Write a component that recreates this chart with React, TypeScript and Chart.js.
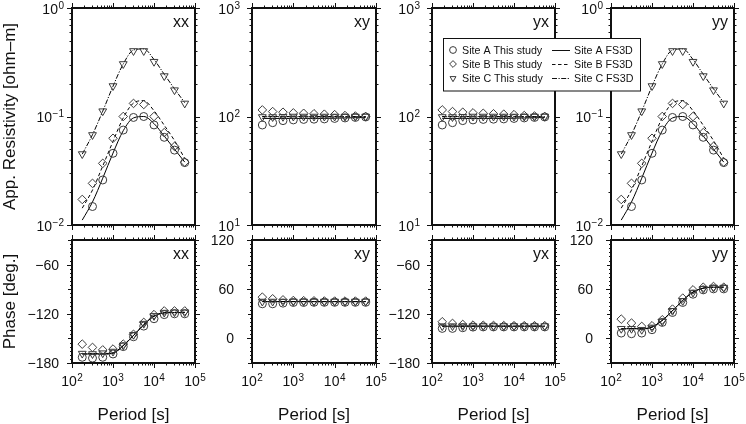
import React, { useEffect, useRef } from 'react';
import { Chart, registerables } from 'chart.js';
Chart.register(...registerables);

const FONT = '"Liberation Sans", Arial, Helvetica, sans-serif';
const INK = '#111';
const MARK = '#3a3a3a';
const W = 746;
const H = 424;

// ---------- data ----------
const periods = [177.8, 316.2, 562.3, 1000, 1778, 3162, 5623, 10000, 17783, 31623, 56234];

const periodTicks = [100, 1000, 10000, 100000];
const rhoTicksDiag = [0.01, 0.1, 1];
const rhoTicksOff = [10, 100, 1000];
const phaseTicksNeg = [-180, -120, -60];
const phaseTicksPos = [0, 60, 120];

// apparent resistivity, xx (observed, This study)
const rhoXX_A = [null, 0.0148, 0.026, 0.0458, 0.075, 0.098, 0.1, 0.0836, 0.0643, 0.049, 0.0376];
const rhoXX_B = [0.0172, 0.0242, 0.037, 0.063, 0.1, 0.132, 0.129, 0.1, 0.071, 0.053, 0.038];
const rhoXX_C = [0.0451, 0.0676, 0.112, 0.191, 0.305, 0.402, 0.402, 0.32, 0.236, 0.175, 0.132];
// apparent resistivity, xx (FS3D)
const fsRhoXX_A = [0.0111, 0.0163, 0.027, 0.046, 0.074, 0.097, 0.1, 0.086, 0.066, 0.05, 0.038];
const fsRhoXX_B = [0.0143, 0.021, 0.035, 0.059, 0.097, 0.133, 0.14, 0.113, 0.083, 0.06, 0.041];
const fsRhoXX_C = [0.045, 0.068, 0.112, 0.19, 0.305, 0.41, 0.42, 0.335, 0.245, 0.18, 0.134];

// yy (same readings as xx)
const rhoYY_A = [null, 0.0148, 0.026, 0.0458, 0.075, 0.098, 0.1, 0.0836, 0.0643, 0.049, 0.0376];
const rhoYY_B = [0.0172, 0.0242, 0.037, 0.063, 0.1, 0.132, 0.129, 0.1, 0.071, 0.053, 0.038];
const rhoYY_C = [0.0451, 0.0676, 0.112, 0.191, 0.305, 0.402, 0.402, 0.32, 0.236, 0.175, 0.132];
const fsRhoYY_A = [0.0111, 0.0163, 0.027, 0.046, 0.074, 0.097, 0.1, 0.086, 0.066, 0.05, 0.038];
const fsRhoYY_B = [0.0143, 0.021, 0.035, 0.059, 0.097, 0.133, 0.14, 0.113, 0.083, 0.06, 0.041];
const fsRhoYY_C = [0.045, 0.068, 0.112, 0.19, 0.305, 0.41, 0.42, 0.335, 0.245, 0.18, 0.134];

// xy / yx resistivity
const rhoXY_A = [83.5, 87.7, 91.6, 93, 94, 94.5, 95, 96, 97, 98, 99];
const rhoXY_B = [115, 111, 109.5, 108, 107, 106, 105, 104, 102, 101, 100];
const rhoXY_C = [99, 99, 99.5, 100, 100, 100, 100, 100, 100, 100, 100];
const fsRhoXY_A = [96, 96, 96, 96, 96, 96, 96, 96.5, 97, 97.5, 98];
const fsRhoXY_B = [100, 100, 100, 100, 100, 100, 100, 100, 100, 100, 100];
const fsRhoXY_C = [99.5, 99.5, 99.5, 99.5, 99.5, 99.5, 99.5, 99.5, 99.5, 99.5, 99.5];

const rhoYX_A = [83.5, 87.7, 91.6, 93, 94, 94.5, 95, 96, 97, 98, 99];
const rhoYX_B = [115, 111, 109.5, 108, 107, 106, 105, 104, 102, 101, 100];
const rhoYX_C = [99, 99, 99.5, 100, 100, 100, 100, 100, 100, 100, 100];
const fsRhoYX_A = [96, 96, 96, 96, 96, 96, 96, 96.5, 97, 97.5, 98];
const fsRhoYX_B = [100, 100, 100, 100, 100, 100, 100, 100, 100, 100, 100];
const fsRhoYX_C = [99.5, 99.5, 99.5, 99.5, 99.5, 99.5, 99.5, 99.5, 99.5, 99.5, 99.5];

// phases
const phXX_A = [-173, -174, -173, -169, -160, -148, -135, -126, -121, -120, -120];
const phXX_B = [-157, -161, -164, -163, -157, -145, -130.5, -121, -116.5, -116.5, -116.5];
const phXX_C = [-168.5, -169, -168, -166, -158.5, -145.5, -132, -122.5, -118.5, -118, -118];
const fsPhXX_A = [-169, -169, -169, -168, -159, -146.5, -133.5, -123, -119, -118.5, -118.5];
const fsPhXX_B = [-168.5, -168.5, -168.5, -167.5, -158.5, -146, -133, -122.5, -118.5, -118, -118];
const fsPhXX_C = [-169, -169, -169, -168, -159, -146.5, -133.5, -123, -119, -118.5, -118.5];

const phXY_A = [42.2, 42.2, 43, 43.8, 43.8, 44, 44, 44, 44, 44, 44];
const phXY_B = [50.3, 48.3, 47, 46.2, 46, 45.8, 45.6, 45.5, 45.5, 45.5, 45.5];
const phXY_C = [45, 45, 45, 45, 45, 45, 45, 45, 45, 45, 45];
const fsPhXY_A = [44.8, 44.8, 44.8, 44.8, 44.8, 44.8, 44.8, 44.8, 44.8, 44.8, 44.8];
const fsPhXY_B = [45, 45, 45, 45, 45, 45, 45, 45, 45, 45, 45];
const fsPhXY_C = [45, 45, 45, 45, 45, 45, 45, 45, 45, 45, 45];

const phYX_A = [-137.8, -137.8, -137, -136.2, -136, -136, -136, -136, -136, -136, -136];
const phYX_B = [-129.7, -131.7, -133, -133.8, -134, -134.2, -134.4, -134.5, -134.5, -134.5, -134.5];
const phYX_C = [-135, -135, -135, -135, -135, -135, -135, -135, -135, -135, -135];
const fsPhYX_A = [-135.2, -135.2, -135.2, -135.2, -135.2, -135.2, -135.2, -135.2, -135.2, -135.2, -135.2];
const fsPhYX_B = [-135, -135, -135, -135, -135, -135, -135, -135, -135, -135, -135];
const fsPhYX_C = [-135, -135, -135, -135, -135, -135, -135, -135, -135, -135, -135];

const phYY_A = [6.5, 5.7, 6.5, 10.6, 19.5, 31.6, 43.8, 53.9, 59.2, 60.4, 60.4];
const phYY_B = [23.5, 18.7, 14.6, 15.4, 22.7, 35.7, 49.1, 59.2, 62.4, 63.3, 62.4];
const phYY_C = [11.8, 11.8, 10.6, 13.4, 20.7, 33.7, 45.8, 56, 60.4, 62, 62];
const fsPhYY_A = [11.4, 12, 11.5, 13.8, 21.9, 33.7, 46.2, 56.4, 61.2, 62.4, 62.4];
const fsPhYY_B = [11.8, 12.2, 11.8, 14, 22.2, 34, 46.5, 56.6, 61.4, 62.6, 62.6];
const fsPhYY_C = [11.4, 12, 11.5, 13.8, 21.9, 33.7, 46.2, 56.4, 61.2, 62.4, 62.4];

const siteNames = ['Site A', 'Site B', 'Site C'];

// ---------- layout ----------
const COLS = [[72, 195], [252, 376], [432, 555], [611, 734]];
const ROWS = [[8, 225], [240, 363]];

type Arr = (number | null)[];
type PanelDef = {
  id: string;
  label: string;
  col: number;
  row: number;
  yType: 'logarithmic' | 'linear';
  yMin: number;
  yMax: number;
  yTicks: number[];
  obs: Arr[];
  fs: Arr[];
  gap: number;
  legend?: boolean;
};

const panels: PanelDef[] = [
  { id: 'rxx', label: 'xx', col: 0, row: 0, yType: 'logarithmic', yMin: 0.01, yMax: 1, yTicks: rhoTicksDiag, obs: [rhoXX_A, rhoXX_B, rhoXX_C], fs: [fsRhoXX_A, fsRhoXX_B, fsRhoXX_C], gap: 8 },
  { id: 'rxy', label: 'xy', col: 1, row: 0, yType: 'logarithmic', yMin: 10, yMax: 1000, yTicks: rhoTicksOff, obs: [rhoXY_A, rhoXY_B, rhoXY_C], fs: [fsRhoXY_A, fsRhoXY_B, fsRhoXY_C], gap: 12 },
  { id: 'ryx', label: 'yx', col: 2, row: 0, yType: 'logarithmic', yMin: 10, yMax: 1000, yTicks: rhoTicksOff, obs: [rhoYX_A, rhoYX_B, rhoYX_C], fs: [fsRhoYX_A, fsRhoYX_B, fsRhoYX_C], gap: 12 },
  { id: 'pxx', label: 'xx', col: 0, row: 1, yType: 'linear', yMin: -180, yMax: -30, yTicks: phaseTicksNeg, obs: [phXX_A, phXX_B, phXX_C], fs: [fsPhXX_A, fsPhXX_B, fsPhXX_C], gap: 13 },
  { id: 'pxy', label: 'xy', col: 1, row: 1, yType: 'linear', yMin: -30, yMax: 120, yTicks: phaseTicksPos, obs: [phXY_A, phXY_B, phXY_C], fs: [fsPhXY_A, fsPhXY_B, fsPhXY_C], gap: 18 },
  { id: 'pyx', label: 'yx', col: 2, row: 1, yType: 'linear', yMin: -180, yMax: -30, yTicks: phaseTicksNeg, obs: [phYX_A, phYX_B, phYX_C], fs: [fsPhYX_A, fsPhYX_B, fsPhYX_C], gap: 12 },
  { id: 'pyy', label: 'yy', col: 3, row: 1, yType: 'linear', yMin: -30, yMax: 120, yTicks: phaseTicksPos, obs: [phYY_A, phYY_B, phYY_C], fs: [fsPhYY_A, fsPhYY_B, fsPhYY_C], gap: 18 },
  { id: 'ryy', label: 'yy', col: 3, row: 0, yType: 'logarithmic', yMin: 0.01, yMax: 1, yTicks: rhoTicksDiag, obs: [rhoYY_A, rhoYY_B, rhoYY_C], fs: [fsRhoYY_A, fsRhoYY_B, fsRhoYY_C], gap: 8, legend: true },
];

const lineDashes = [[], [3.5, 2.5], [5, 1.5, 1.2, 1.5]];
const markerDefs = [
  { pointStyle: 'circle', radius: 4, rotation: 0 },
  { pointStyle: 'rectRot', radius: 4.3, rotation: 0 },
  { pointStyle: 'triangle', radius: 4.5, rotation: 180 },
];

function drawPow(ctx: CanvasRenderingContext2D, exp: string, x: number, baseline: number, align: 'right' | 'center') {
  ctx.textAlign = 'left';
  ctx.textBaseline = 'alphabetic';
  ctx.font = `14px ${FONT}`;
  const wb = ctx.measureText('10').width;
  ctx.font = `10px ${FONT}`;
  const we = ctx.measureText(exp).width;
  const total = wb + we + 0.5;
  const x0 = align === 'center' ? x - total / 2 : x - total;
  ctx.font = `14px ${FONT}`;
  ctx.fillText('10', x0, baseline);
  ctx.font = `10px ${FONT}`;
  ctx.fillText(exp, x0 + wb + 0.5, baseline - 5);
}

function expStr(v: number) {
  const e = Math.round(Math.log10(v));
  return e < 0 ? '\u2212' + Math.abs(e) : String(e);
}

function drawMarker(ctx: CanvasRenderingContext2D, kind: number, x: number, y: number, r: number) {
  ctx.beginPath();
  if (kind === 0) {
    ctx.arc(x, y, r, 0, Math.PI * 2);
  } else if (kind === 1) {
    ctx.moveTo(x - r, y); ctx.lineTo(x, y - r); ctx.lineTo(x + r, y); ctx.lineTo(x, y + r); ctx.closePath();
  } else {
    const h = r * 0.5, w = r * 0.866;
    ctx.moveTo(x - w, y - h); ctx.lineTo(x + w, y - h); ctx.lineTo(x, y + r); ctx.closePath();
  }
  ctx.stroke();
}

function makePlugin(p: PanelDef) {
  return {
    id: 'frame_' + p.id,
    afterDraw(chart: any) {
      const ctx: CanvasRenderingContext2D = chart.ctx;
      const a = chart.chartArea;
      const xs = chart.scales.x;
      const ys = chart.scales.y;
      ctx.save();
      ctx.strokeStyle = INK;
      ctx.fillStyle = INK;
      ctx.lineWidth = 1;
      ctx.setLineDash([]);
      ctx.beginPath();
      // x ticks (top and bottom, outward)
      for (let d = 2; d <= 5; d++) {
        for (let m = 1; m <= 9; m++) {
          const v = m * Math.pow(10, d);
          if (v > 100000) break;
          const px = Math.round(xs.getPixelForValue(v)) + 0.5;
          const len = m === 1 ? 5 : 2.5;
          ctx.moveTo(px, a.top); ctx.lineTo(px, a.top - len);
          ctx.moveTo(px, a.bottom); ctx.lineTo(px, a.bottom + len);
        }
      }
      // y ticks (left and right, outward)
      if (p.yType === 'logarithmic') {
        const d0 = Math.round(Math.log10(p.yMin));
        const d1 = Math.round(Math.log10(p.yMax));
        for (let d = d0; d <= d1; d++) {
          for (let m = 1; m <= 9; m++) {
            const v = m * Math.pow(10, d);
            if (v > p.yMax * 1.0001) break;
            const py = Math.round(ys.getPixelForValue(v)) + 0.5;
            const len = m === 1 ? 5 : 2.5;
            ctx.moveTo(a.left, py); ctx.lineTo(a.left - len, py);
            ctx.moveTo(a.right, py); ctx.lineTo(a.right + len, py);
          }
        }
      } else {
        for (let v = p.yMin; v <= p.yMax; v += 5) {
          const py = Math.round(ys.getPixelForValue(v)) + 0.5;
          const len = v % 60 === 0 ? 5 : v % 30 === 0 ? 4 : 2;
          ctx.moveTo(a.left, py); ctx.lineTo(a.left - len, py);
          ctx.moveTo(a.right, py); ctx.lineTo(a.right + len, py);
        }
      }
      ctx.stroke();
      // frame
      ctx.lineWidth = 2;
      ctx.strokeRect(a.left, a.top, a.right - a.left, a.bottom - a.top);

      // panel label
      ctx.font = `16px ${FONT}`;
      ctx.textAlign = 'right';
      ctx.textBaseline = 'alphabetic';
      ctx.fillText(p.label, a.right - 6, a.top + 19);

      // y tick labels
      for (const v of p.yTicks) {
        const py = ys.getPixelForValue(v);
        if (p.yType === 'logarithmic') {
          drawPow(ctx, expStr(v), a.left - p.gap, py + 5.5, 'right');
        } else {
          ctx.font = `14px ${FONT}`;
          ctx.textAlign = 'right';
          ctx.textBaseline = 'alphabetic';
          const txt = v < 0 ? '\u2212' + Math.abs(v) : String(v);
          ctx.fillText(txt, a.left - p.gap, py + 5);
        }
      }

      // x tick labels and title on bottom row
      if (p.row === 1) {
        for (const v of periodTicks) {
          drawPow(ctx, expStr(v), xs.getPixelForValue(v), 386, 'center');
        }
        ctx.font = `17px ${FONT}`;
        ctx.textAlign = 'center';
        ctx.textBaseline = 'alphabetic';
        ctx.fillText('Period [s]', (a.left + a.right) / 2, 420);
      }

      // y axis titles on first column
      if (p.col === 0) {
        ctx.save();
        ctx.translate(14.5, (a.top + a.bottom) / 2);
        ctx.rotate(-Math.PI / 2);
        ctx.font = `17px ${FONT}`;
        ctx.textAlign = 'center';
        ctx.textBaseline = 'alphabetic';
        ctx.fillText(p.row === 0 ? 'App. Resistivity [ohm\u2013m]' : 'Phase [deg.]', 0, 0);
        ctx.restore();
      }

      // legend
      if (p.legend) {
        const bx = 443, by = 38.5, bw = 197, bh = 52.5;
        ctx.fillStyle = '#fff';
        ctx.fillRect(bx, by, bw, bh);
        ctx.lineWidth = 1;
        ctx.strokeStyle = INK;
        ctx.strokeRect(bx + 0.5, by, bw, bh);
        const rowsY = [50, 64, 78.3];
        ctx.font = `10.7px ${FONT}`;
        ctx.textAlign = 'left';
        ctx.textBaseline = 'alphabetic';
        for (let i = 0; i < 3; i++) {
          const ry = rowsY[i];
          ctx.strokeStyle = MARK;
          ctx.lineWidth = 1;
          ctx.setLineDash([]);
          drawMarker(ctx, i, 453, ry, 3.4);
          ctx.fillStyle = INK;
          ctx.fillText(siteNames[i] + ' This study', 462, ry + 3.8);
          ctx.strokeStyle = INK;
          ctx.setLineDash(lineDashes[i]);
          ctx.beginPath();
          ctx.moveTo(552, Math.round(ry) + 0.5);
          ctx.lineTo(570, Math.round(ry) + 0.5);
          ctx.stroke();
          ctx.setLineDash([]);
          ctx.fillText(siteNames[i] + ' FS3D', 574, ry + 3.8);
        }
      }
      ctx.restore();
    },
  };
}

function buildConfig(p: PanelDef): any {
  const toPts = (arr: Arr) => periods.map((x, i) => ({ x, y: arr[i] }));
  const datasets: any[] = [];
  p.obs.forEach((arr, i) => {
    const m = markerDefs[i];
    datasets.push({
      label: siteNames[i] + ' This study',
      data: toPts(arr),
      showLine: false,
      pointStyle: m.pointStyle,
      pointRadius: m.radius,
      pointRotation: m.rotation,
      pointBorderColor: MARK,
      pointBackgroundColor: 'rgba(0,0,0,0)',
      pointBorderWidth: 1,
    });
  });
  p.fs.forEach((arr, i) => {
    datasets.push({
      label: siteNames[i] + ' FS3D',
      data: toPts(arr),
      showLine: true,
      borderColor: '#000',
      borderWidth: 1,
      borderDash: lineDashes[i],
      pointRadius: 0,
      fill: false,
      cubicInterpolationMode: 'monotone',
    });
  });
  const [l, r] = COLS[p.col];
  const [t, b] = ROWS[p.row];
  return {
    type: 'line',
    data: { datasets },
    options: {
      responsive: false,
      animation: false,
      events: [],
      layout: { padding: { left: l, top: t, right: W - r, bottom: H - b } },
      plugins: { legend: { display: false }, tooltip: { enabled: false }, title: { display: false } },
      scales: {
        x: { type: 'logarithmic', min: 100, max: 100000, display: false },
        y: { type: p.yType, min: p.yMin, max: p.yMax, display: false },
      },
    },
    plugins: [makePlugin(p)],
  };
}

function PanelChart({ p }: { p: PanelDef }) {
  const ref = useRef<HTMLCanvasElement>(null);
  useEffect(() => {
    const chart = new Chart(ref.current as HTMLCanvasElement, buildConfig(p));
    return () => chart.destroy();
  }, [p]);
  return (
    <canvas
      ref={ref}
      width={W}
      height={H}
      style={{ position: 'absolute', left: 0, top: 0, width: W, height: H }}
    />
  );
}

export default function App() {
  return (
    <div style={{ position: 'fixed', left: 0, top: 0, width: W, height: H, background: '#fff', overflow: 'hidden' }}>
      {panels.map((p) => (
        <PanelChart key={p.id} p={p} />
      ))}
    </div>
  );
}
